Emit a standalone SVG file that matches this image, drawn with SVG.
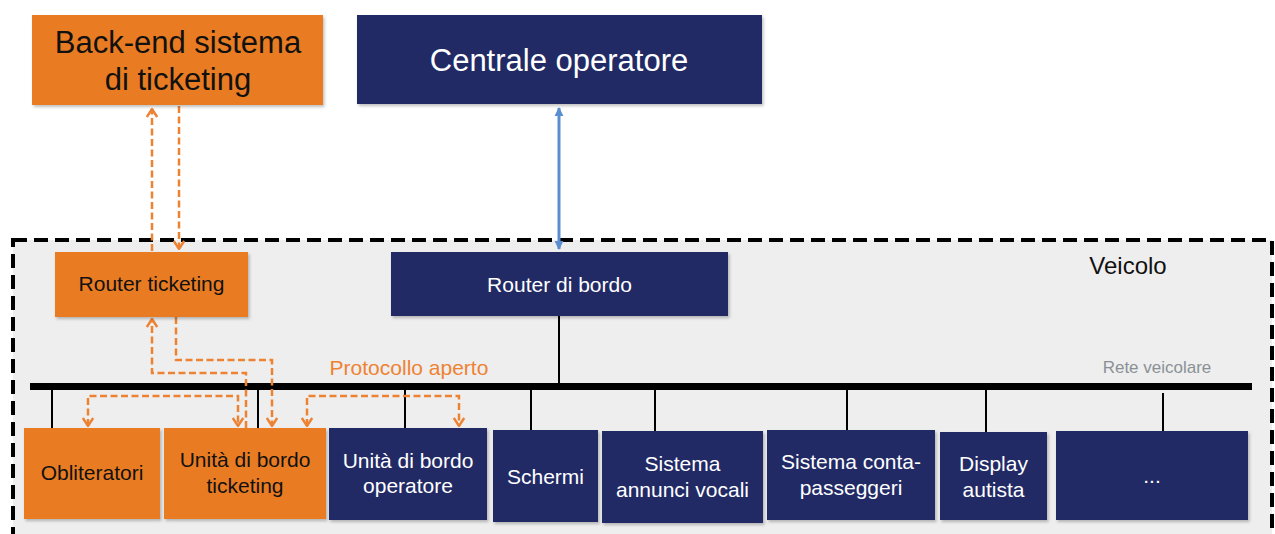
<svg xmlns="http://www.w3.org/2000/svg" width="1275" height="534" viewBox="0 0 1275 534">
  <style>
    text { font-family: "Liberation Sans", Arial, sans-serif; text-anchor: middle; }
    .orange { fill: #E97B24; filter: url(#shadow); }
    .navy { fill: #212A66; filter: url(#shadow); }
    .dark-txt { fill: #111111; }
    .light-txt { fill: #FFFFFF; }
    .big { font-size: 31px; }
    .lbl { font-size: 21px; }
    .drop { stroke: #000000; stroke-width: 2; fill: none; }
    .dashed { stroke: #EE8233; stroke-width: 2.5; stroke-dasharray: 7 3.5; fill: none; }
    .uplink { stroke: #5B8ED1; stroke-width: 3; fill: none; }
  </style>
  <defs>
    <filter id="shadow" x="-5%" y="-5%" width="115%" height="125%">
      <feDropShadow dx="1.5" dy="2" stdDeviation="1.5" flood-color="#000000" flood-opacity="0.25"/>
    </filter>
    <marker id="chevron" viewBox="0 0 10 12" refX="9" refY="6" markerUnits="userSpaceOnUse" markerWidth="10" markerHeight="13" orient="auto-start-reverse">
      <path d="M1,0.8 L9,6 L1,11.2" fill="none" stroke="#EE8233" stroke-width="2.4"/>
    </marker>
    <marker id="tri" viewBox="0 0 10 10" refX="9" refY="5" markerUnits="userSpaceOnUse" markerWidth="9" markerHeight="10" orient="auto-start-reverse">
      <path d="M0,0 L10,5 L0,10 Z" fill="#5B8ED1"/>
    </marker>
  </defs>

  <rect width="1275" height="534" fill="#FFFFFF"/>

  <!-- vehicle boundary (runs past the lower edge) -->
  <g id="veicolo">
    <rect x="13" y="240" width="1259" height="330" fill="#EEEEEE" stroke="#000000" stroke-width="4" stroke-dasharray="14 7"/>
    <text x="1128" y="274" class="dark-txt" style="font-size:24px">Veicolo</text>
  </g>

  <!-- vehicle network bus -->
  <g id="rete-veicolare">
    <line x1="30" y1="386.5" x2="1252" y2="386.5" stroke="#000000" stroke-width="7"/>
    <text x="1157" y="373" style="font-size:17px;fill:#8A9196">Rete veicolare</text>
  </g>

  <!-- connectors -->
  <g id="connectors">
    <!-- bus drops -->
    <path class="drop" d="M559,316 V384"/>
    <path class="drop" d="M52,390 V428"/>
    <path class="drop" d="M258,390 V428"/>
    <path class="drop" d="M405,390 V428"/>
    <path class="drop" d="M531,390 V430"/>
    <path class="drop" d="M655,390 V431"/>
    <path class="drop" d="M847,390 V430"/>
    <path class="drop" d="M986,390 V432"/>
    <path class="drop" d="M1163,393 V431"/>

    <!-- operator uplink -->
    <path class="uplink" d="M559,108 V249" marker-start="url(#tri)" marker-end="url(#tri)"/>

    <!-- ticketing links -->
    <path class="dashed" d="M152,251 V109" marker-end="url(#chevron)"/>
    <path class="dashed" d="M179,106 V249" marker-end="url(#chevron)"/>
    <path class="dashed" d="M246,428 V373 H152 V319" marker-end="url(#chevron)"/>
    <path class="dashed" d="M176,317 V360 H272 V426" marker-end="url(#chevron)"/>
    <path class="dashed" d="M88,426 V396 H238 V426" marker-start="url(#chevron)" marker-end="url(#chevron)"/>
    <path class="dashed" d="M307,426 V396 H459 V426" marker-start="url(#chevron)" marker-end="url(#chevron)"/>
    <text x="409" y="375" class="lbl" style="fill:#EE8233">Protocollo aperto</text>
  </g>

  <!-- nodes -->
  <g id="backend-ticketing">
    <rect x="32" y="15" width="291" height="90" class="orange"/>
    <text x="178" y="53" class="big dark-txt">Back-end sistema</text>
    <text x="178" y="90" class="big dark-txt">di ticketing</text>
  </g>

  <g id="centrale-operatore">
    <rect x="357" y="15" width="405" height="89" class="navy"/>
    <text x="559" y="71" class="big light-txt">Centrale operatore</text>
  </g>

  <g id="router-ticketing">
    <rect x="55" y="252" width="193" height="65" class="orange"/>
    <text x="151.5" y="291" class="lbl dark-txt">Router ticketing</text>
  </g>

  <g id="router-bordo">
    <rect x="391" y="252" width="337" height="64" class="navy"/>
    <text x="559.5" y="292" class="lbl light-txt">Router di bordo</text>
  </g>

  <g id="obliteratori">
    <rect x="24" y="428" width="136" height="91" class="orange"/>
    <text x="92" y="480" class="lbl dark-txt">Obliteratori</text>
  </g>

  <g id="unita-ticketing">
    <rect x="164" y="428" width="162" height="91" class="orange"/>
    <text x="245" y="467" class="lbl dark-txt">Unità di bordo</text>
    <text x="245" y="493" class="lbl dark-txt">ticketing</text>
  </g>

  <g id="unita-operatore">
    <rect x="329" y="428" width="158" height="92" class="navy"/>
    <text x="408" y="468" class="lbl light-txt">Unità di bordo</text>
    <text x="408" y="493" class="lbl light-txt">operatore</text>
  </g>

  <g id="schermi">
    <rect x="493" y="430" width="105" height="92" class="navy"/>
    <text x="545.5" y="484" class="lbl light-txt">Schermi</text>
  </g>

  <g id="annunci-vocali">
    <rect x="602" y="431" width="161" height="92" class="navy"/>
    <text x="682.5" y="471" class="lbl light-txt">Sistema</text>
    <text x="682.5" y="497" class="lbl light-txt">annunci vocali</text>
  </g>

  <g id="conta-passeggeri">
    <rect x="767" y="430" width="168" height="90" class="navy"/>
    <text x="851" y="469" class="lbl light-txt">Sistema conta-</text>
    <text x="851" y="495" class="lbl light-txt">passeggeri</text>
  </g>

  <g id="display-autista">
    <rect x="940" y="432" width="107" height="88" class="navy"/>
    <text x="993.5" y="471" class="lbl light-txt">Display</text>
    <text x="993.5" y="497" class="lbl light-txt">autista</text>
  </g>

  <g id="altro">
    <rect x="1056" y="431" width="192" height="89" class="navy"/>
    <text x="1152" y="483" class="lbl light-txt">...</text>
  </g>
</svg>
